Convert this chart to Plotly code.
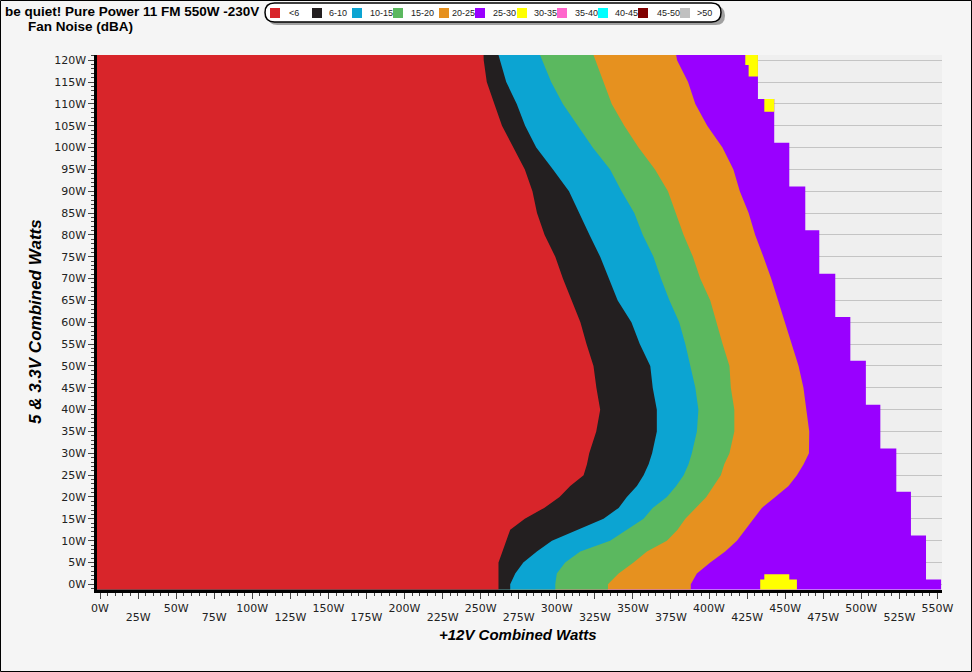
import plotly.graph_objects as go

# ---------------- data ----------------
# 5V & 3.3V combined load levels (W) at which the zone boundaries were read
y_levels = [-1.2, 0, 2.5, 5, 7.5, 10, 12.5, 15, 17.5, 20, 22.5, 25, 27.5, 30,
            35, 40, 45, 50, 55, 60, 65, 70, 75, 80, 85, 90, 95, 100, 105, 110,
            115, 120, 121.2]

# +12V combined load (W) where each noise zone ends, for every level above
end_lt6 = [261.7, 261.7, 261.7, 261.7, 264.3, 266.8, 269.4, 279.0, 291.7, 301.8,
           308.8, 317.6, 319.8, 321.3, 325.9, 328.5, 326.0, 324.1, 319.5, 315.5,
           309.5, 304.0, 299.0, 292.0, 287.0, 284.0, 279.0, 271.6, 264.0, 259.0,
           254.0, 252.0, 251.9]
end_6_10 = [269.4, 269.4, 272.7, 278.0, 286.9, 296.8, 313.2, 330.7, 340.6, 346.0,
            352.6, 357.0, 360.3, 362.6, 365.7, 365.7, 363.0, 361.4, 354.5, 349.0,
            340.0, 334.0, 328.5, 321.5, 314.5, 308.0, 297.5, 286.5, 279.2, 273.7,
            266.8, 262.8, 261.7]
end_10_15 = [299.0, 299.0, 300.0, 305.5, 315.4, 335.0, 346.0, 357.0, 363.0, 372.3,
             378.4, 383.3, 386.5, 388.7, 392.0, 393.0, 391.0, 387.6, 384.4, 380.4,
             374.0, 368.4, 363.5, 356.5, 350.9, 342.5, 335.0, 323.6, 313.8, 304.0,
             296.3, 290.2, 289.0]
end_15_20 = [333.6, 333.6, 340.6, 350.4, 359.2, 372.3, 379.3, 384.4, 391.0, 398.2,
             403.0, 407.7, 410.0, 413.4, 416.6, 416.6, 414.3, 413.4, 408.9, 404.8,
             400.8, 394.2, 389.4, 383.3, 378.0, 373.0, 364.5, 353.7, 344.3, 336.1,
             330.7, 325.2, 324.1]
end_20_25 = [388.0, 388.0, 392.0, 400.8, 410.6, 418.3, 423.8, 429.2, 434.7, 443.5,
             452.2, 457.7, 462.1, 465.6, 465.8, 463.9, 462.0, 458.8, 454.4, 449.5,
             445.6, 440.8, 435.7, 430.3, 426.0, 420.2, 416.0, 408.8, 398.8, 391.0,
             386.2, 379.0, 378.4]

# 25-30 dBA zone: tested envelope, one max +12V value per 5V band
band_edges = [-1.2, 1.1, 11.2, 21.2, 31.1, 41.1, 51.2, 61.2, 71.1, 81.1, 91.1,
              101.1, 111.1, 121.2]
band_max12v = [552.4, 542.5, 532.6, 523.0, 512.5, 503.0, 492.8, 482.9, 472.4,
               463.2, 452.7, 442.8, 432.1]

# 30-35 dBA patches
p30_ylo = [-1.2, 1.1, 108.2, 116.3, 118.9]
p30_yhi = [1.1, 2.3, 111.1, 118.9, 121.2]
p30_xlo = [433.6, 436.3, 436.3, 426.0, 423.8]
p30_xhi = [457.7, 452.7, 442.8, 432.1, 432.1]

categories = ["<6", "6-10", "10-15", "15-20", "20-25", "25-30", "30-35",
              "35-40", "40-45", "45-50", ">50"]
colors = ["#d8252a", "#231f20", "#0ca4d2", "#5bb85f", "#e6911f", "#9900ff",
          "#ffff00", "#ff66cc", "#00ffff", "#800000", "#c0c0c0"]

x_ticks = list(range(0, 551, 25))
x_row1 = [v for v in x_ticks if (v // 25) % 2 == 0]
x_row2 = [v for v in x_ticks if (v // 25) % 2 == 1]
y_ticks = list(range(0, 121, 5))
y_ticktext = ["%dW" % v for v in y_ticks]

# ---------------- layout geometry ----------------
W, H = 972, 672
L, R, T, B = 97, 30, 55, 82
X_RANGE = [-2, 553]
Y_RANGE = [-1.3, 121.2]
pw, ph = W - L - R, H - T - B


def px(xp):
    return (xp - L) / pw


def py(yp):
    return (H - B - yp) / ph


fig = go.Figure()

x_left = X_RANGE[0]

# purple envelope (drawn first, others paint over it)
sx, sy = [x_left], [band_edges[0]]
for i, xv in enumerate(band_max12v):
    sx += [xv, xv]
    sy += [band_edges[i], band_edges[i + 1]]
sx.append(x_left)
sy.append(band_edges[-1])
fig.add_trace(go.Scatter(x=sx, y=sy, mode="lines", fill="toself",
                         fillcolor=colors[5], line=dict(width=0),
                         hoverinfo="skip", showlegend=False))

for bound, col in [(end_20_25, colors[4]), (end_15_20, colors[3]),
                   (end_10_15, colors[2]), (end_6_10, colors[1]),
                   (end_lt6, colors[0])]:
    fig.add_trace(go.Scatter(
        x=[x_left] + bound + [x_left],
        y=[y_levels[0]] + y_levels + [y_levels[-1]],
        mode="lines", fill="toself", fillcolor=col, line=dict(width=0),
        hoverinfo="skip", showlegend=False))

# 30-35 patches
yx, yy = [], []
for a, b, c, d in zip(p30_ylo, p30_yhi, p30_xlo, p30_xhi):
    yx += [c, d, d, c, c, None]
    yy += [a, a, b, b, a, None]
fig.add_trace(go.Scatter(x=yx, y=yy, mode="lines", fill="toself",
                         fillcolor=colors[6], line=dict(width=0),
                         hoverinfo="skip", showlegend=False))

# invisible trace to activate second x axis (staggered tick labels)
fig.add_trace(go.Scatter(x=[X_RANGE[0]], y=[Y_RANGE[0]], xaxis="x2",
                         mode="markers", marker=dict(opacity=0),
                         hoverinfo="skip", showlegend=False))

shapes = []
annotations = []

# figure border
shapes.append(dict(type="rect", xref="paper", yref="paper",
                   x0=px(0.5), x1=px(W - 0.5), y0=py(0.5), y1=py(H - 0.5),
                   line=dict(color="black", width=1), layer="above"))


def pill(l, r, t, b):
    rr = (b - t) / 2
    m = (t + b) / 2
    return ("M %f %f L %f %f Q %f %f %f %f Q %f %f %f %f L %f %f "
            "Q %f %f %f %f Q %f %f %f %f Z" % (
                px(l + rr), py(t), px(r - rr), py(t),
                px(r), py(t), px(r), py(m),
                px(r), py(b), px(r - rr), py(b),
                px(l + rr), py(b),
                px(l), py(b), px(l), py(m),
                px(l), py(t), px(l + rr), py(t)))


# legend box with shadow
shapes.append(dict(type="path", xref="paper", yref="paper",
                   path=pill(268, 725, 6, 25), fillcolor="#a0a0a0",
                   line=dict(width=0), layer="above"))
shapes.append(dict(type="path", xref="paper", yref="paper",
                   path=pill(265, 721, 3, 22), fillcolor="white",
                   line=dict(color="black", width=1.5), layer="above"))

sq_x = [270, 312, 352, 393, 439, 475, 517, 557, 598, 638, 680]
lbl_x = [287, 327, 368, 409, 450, 491, 532, 573, 613, 655, 695]
for i, (cat, col) in enumerate(zip(categories, colors)):
    shapes.append(dict(type="rect", xref="paper", yref="paper",
                       x0=px(sq_x[i]), x1=px(sq_x[i] + 10),
                       y0=py(8), y1=py(18), fillcolor=col,
                       line=dict(width=0), layer="above"))
    annotations.append(dict(text=cat, xref="paper", yref="paper",
                            x=px(lbl_x[i]), y=py(13), xanchor="left",
                            yanchor="middle", showarrow=False,
                            font=dict(family="Liberation Sans", size=9,
                                      color="#222")))

# titles
annotations.append(dict(text="<b>be quiet! Pure Power 11 FM 550W -230V</b>",
                        xref="paper", yref="paper", x=px(3), y=py(12),
                        xanchor="left", yanchor="middle", showarrow=False,
                        font=dict(family="Liberation Sans", size=13.5, color="black")))
annotations.append(dict(text="<b>Fan Noise (dBA)</b>",
                        xref="paper", yref="paper", x=px(26), y=py(26),
                        xanchor="left", yanchor="middle", showarrow=False,
                        font=dict(family="Liberation Sans", size=13.5, color="black")))
annotations.append(dict(text="<b><i>5 & 3.3V Combined Watts</i></b>",
                        xref="paper", yref="paper", x=px(35), y=py(322),
                        xanchor="center", yanchor="middle", textangle=-90,
                        showarrow=False,
                        font=dict(family="Liberation Sans", size=17, color="black")))
annotations.append(dict(text="<b><i>+12V Combined Watts</i></b>",
                        xref="paper", yref="paper", x=px(518), y=py(634),
                        xanchor="center", yanchor="middle", showarrow=False,
                        font=dict(family="Liberation Sans", size=15, color="black")))

tickfont = dict(family="DejaVu Sans", size=11, color="#222")

fig.update_layout(
    width=W, height=H,
    margin=dict(l=L, r=R, t=T, b=B, pad=0),
    paper_bgcolor="#f5f5f5",
    plot_bgcolor="#efefef",
    showlegend=False,
    shapes=shapes,
    annotations=annotations,
    xaxis=dict(range=X_RANGE, tickmode="array", tickvals=x_ticks,
               ticktext=[("%dW" % v) if v in x_row1 else "" for v in x_ticks],
               ticks="outside", ticklen=6,
               tickcolor="#444", tickwidth=1, tickfont=tickfont,
               showgrid=False, zeroline=False, showline=True,
               linecolor="black", linewidth=2.5,
               minor=dict(tickmode="linear", tick0=0, dtick=5, ticks="outside",
                          ticklen=3, tickcolor="#444", showgrid=False),
               fixedrange=True),
    xaxis2=dict(range=X_RANGE, overlaying="x", anchor="y", side="bottom",
                tickmode="array", tickvals=x_row2,
                ticktext=["%dW" % v for v in x_row2],
                ticks="", tickfont=tickfont, showgrid=False, zeroline=False,
                showline=False, ticklabelstandoff=19, fixedrange=True),
    yaxis=dict(range=Y_RANGE, tickmode="array", tickvals=y_ticks,
               ticktext=y_ticktext, ticks="outside", ticklen=6,
               tickcolor="#444", tickwidth=1, tickfont=tickfont,
               showgrid=True, gridcolor="#c4c4c4", gridwidth=1,
               zeroline=False, showline=True, linecolor="black", linewidth=2.5,
               minor=dict(tickmode="linear", tick0=0, dtick=1, ticks="outside",
                          ticklen=3, tickcolor="#444", showgrid=False),
               fixedrange=True),
)

fig.write_html("out.html", config={"displayModeBar": False},
               post_script="document.body.style.margin='0px';")
